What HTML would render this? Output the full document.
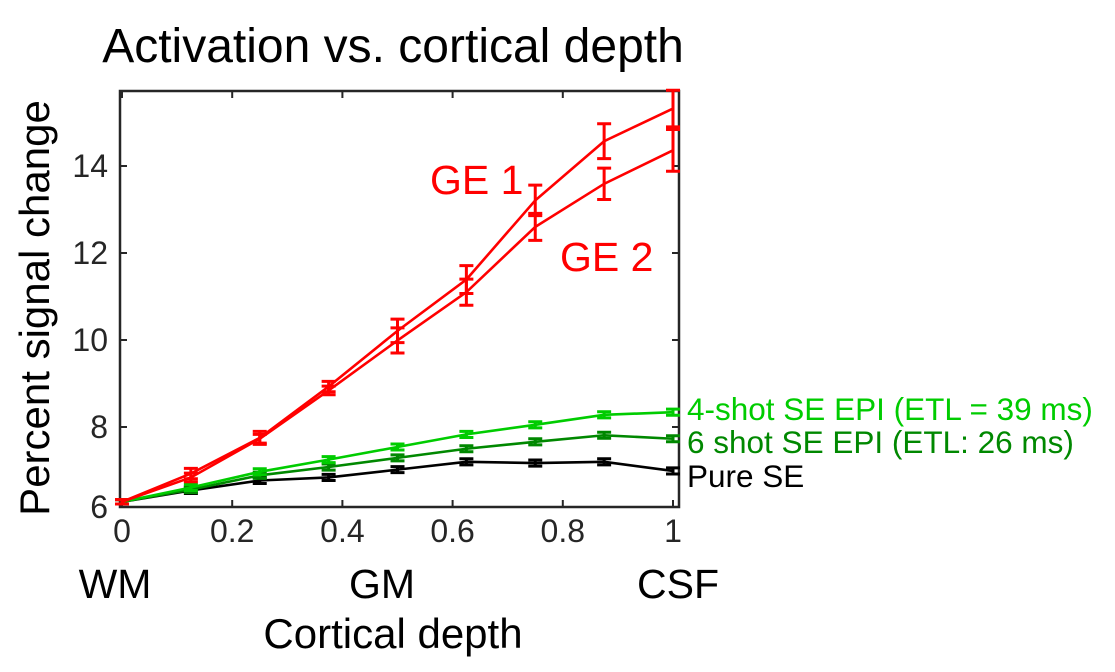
<!DOCTYPE html>
<html><head><meta charset="utf-8"><style>
body{margin:0;background:#fff;}
svg text{font-family:"Liberation Sans",Arial,sans-serif;}
</style></head><body>
<svg width="1115" height="667" viewBox="0 0 1115 667">
<text x="393" y="62" font-size="48" text-anchor="middle">Activation vs. cortical depth</text>
<text transform="translate(49,308) rotate(-90)" font-size="42" text-anchor="middle">Percent signal change</text>
<text x="393" y="648" font-size="42" text-anchor="middle">Cortical depth</text>
<text x="115" y="598" font-size="41" text-anchor="middle">WM</text>
<text x="382" y="598" font-size="41" text-anchor="middle">GM</text>
<text x="678" y="598" font-size="41" text-anchor="middle">CSF</text>
<g id="axes"></g>
<g id="series"></g>
<text x="430" y="194" font-size="41" fill="#ff0000">GE 1</text>
<text x="560" y="271" font-size="41" fill="#ff0000">GE 2</text>
<text x="687" y="420" font-size="31.5" fill="#00cc00">4-shot SE EPI (ETL = 39 ms)</text>
<text x="687" y="453" font-size="31.5" fill="#008800">6 shot SE EPI (ETL: 26 ms)</text>
<text x="687" y="487" font-size="31.5" fill="#000">Pure SE</text>
</svg>
<script>
const depths=[0,0.125,0.25,0.375,0.5,0.625,0.75,0.875,1];
const ge1=[6.28,6.93,7.75,8.93,10.21,11.39,13.21,14.57,15.32];
const ge1Err=[0.05,0.12,0.15,0.12,0.27,0.32,0.35,0.4,0.42];
const ge2=[6.28,6.84,7.73,8.84,9.99,11.1,12.6,13.59,14.36];
const ge2Err=[0.05,0.1,0.1,0.1,0.29,0.3,0.31,0.36,0.48];
const shot4=[6.28,6.61,6.97,7.25,7.54,7.83,8.05,8.28,8.34];
const shot6=[6.28,6.56,6.89,7.08,7.29,7.5,7.66,7.81,7.73];
const pureSE=[6.28,6.54,6.77,6.84,7.02,7.2,7.17,7.2,6.99];
const smallErr=[0.05,0.07,0.07,0.07,0.07,0.07,0.07,0.07,0.07];
const xTicks=[0,0.2,0.4,0.6,0.8,1];
const xTickLabels=["0","0.2","0.4","0.6","0.8","1"];
const yTicks=[6,8,10,12,14];
const yTickLabels=["6","8","10","12","14"];
const NS="http://www.w3.org/2000/svg";
const L=120,R=679,T=91,B=507;
const X=v=>122+v*551;
const Y=v=>Math.min(B,427-(v-8)*43.5);
function mk(tag,attrs,parent){const e=document.createElementNS(NS,tag);for(const k in attrs)e.setAttribute(k,attrs[k]);parent.appendChild(e);return e;}
const ax=document.getElementById('axes');
const frame=mk('rect',{x:L,y:T,width:R-L,height:B-T,fill:'none',stroke:'#262626','stroke-width':2.5},ax);


xTicks.forEach((t,i)=>{
  mk('line',{x1:X(t),x2:X(t),y1:B,y2:B-7,stroke:'#262626','stroke-width':2},ax);
  mk('line',{x1:X(t),x2:X(t),y1:T,y2:T+7,stroke:'#262626','stroke-width':2},ax);
  const tx=mk('text',{x:X(t),y:B+35,'font-size':32,'text-anchor':'middle',fill:'#262626'},ax);
  tx.textContent=xTickLabels[i];
  
  
});
yTicks.forEach((t,i)=>{
  const y=Y(t);
  mk('line',{x1:L,x2:L+7,y1:y,y2:y,stroke:'#262626','stroke-width':2},ax);
  mk('line',{x1:R,x2:R-7,y1:y,y2:y,stroke:'#262626','stroke-width':2},ax);
  const tx=mk('text',{x:L-12,y:y+11,'font-size':32,'text-anchor':'end',fill:'#262626'},ax);
  tx.textContent=yTickLabels[i];
  
  
});
const sg=document.getElementById('series');
function series(vals,errs,color,name){
  const g=mk('g',{},sg);
  
  
  mk('polyline',{points:vals.map((v,i)=>X(depths[i])+','+Y(v)).join(' '),fill:'none',stroke:color,'stroke-width':2.6},g);
  vals.forEach((v,i)=>{
    const x=X(depths[i]),y1=Y(v-errs[i]),y2=Y(v+errs[i]);
    const p=mk('path',{d:`M${x},${y1}V${y2}M${x-7},${y1}H${x+7}M${x-7},${y2}H${x+7}`,stroke:color,'stroke-width':3,fill:'none'},g);
    
    
  });
}
series(pureSE,smallErr,'#000000','series-pure-se');
series(shot6,smallErr,'#008800','series-6shot');
series(shot4,smallErr,'#00cc00','series-4shot');
series(ge2,ge2Err,'#ff0000','series-ge2');
series(ge1,ge1Err,'#ff0000','series-ge1');
</script>
</body></html>
